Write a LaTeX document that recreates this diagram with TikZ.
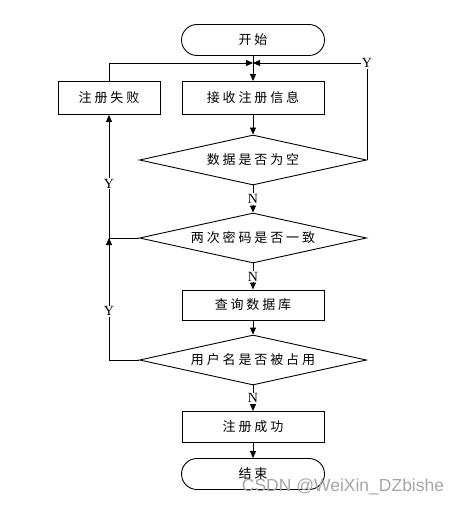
\documentclass[tikz,border=0pt]{standalone}
\usepackage{fontspec}
\usepackage{tikz}
\usetikzlibrary{shapes.geometric,arrows.meta}
\newfontfamily\cjk{Noto Sans CJK SC}[LetterSpace=22]
\newfontfamily\yn{Liberation Serif}
\newfontfamily\wm{Liberation Sans}

\begin{document}
\begin{tikzpicture}[x=1pt, y=-1pt, line width=0.9pt, >={Triangle[length=7pt,width=6pt]},
    font=\cjk\fontsize{13}{15}\selectfont,
    term/.style={draw, rectangle, rounded corners=15.5pt, minimum width=143pt, minimum height=31pt},
    proc/.style={draw, rectangle, minimum width=142pt, minimum height=31pt},
    test/.style={draw, diamond, aspect=4.5, inner sep=0pt, minimum width=227pt, minimum height=50pt},
    yes/.style={fill=white, inner sep=1pt, font=\yn\fontsize{14}{16}\selectfont}]
    \useasboundingbox (0,0) rectangle (464,505);
    % main column
    \node[term] (start) at (253,40) {开始};
    \node[proc, minimum height=33pt] (recv) at (253,98) {接收注册信息};
    \node[proc, minimum width=102pt, minimum height=33pt] (fail) at (109,98) {注册失败};
    \node[test] (empty) at (253,160) {数据是否为空};
    \node[test] (same) at (253,238) {两次密码是否一致};
    \node[proc, minimum height=30pt] (query) at (253,305) {查询数据库};
    \node[test] (used) at (253,360) {用户名是否被占用};
    \node[proc] (ok) at (253,427) {注册成功};
    \node[term] (finish) at (253,474) {结束};
    % joins
    \coordinate (join) at (253,63);
    \coordinate (back) at (fail.south |- same.west);
    % flow
    \draw[->] (start) -- (recv);
    \draw[->] (recv) -- (empty);
    \draw[->] (empty) -- (same) node[midway, yes] {N};
    \draw[->] (same) -- (query) node[midway, yes] {N};
    \draw[->] (query) -- (used);
    \draw[->] (used) -- (ok) node[midway, yes] {N};
    \draw[->] (ok) -- (finish);
    % back loops
    \draw[->] (fail.north) |- (join);
    \draw[->] (empty.east) |- (join) node[pos=0.5, yes] {Y};
    \draw[->] (same.west) -| (fail.south) node[pos=0.72, yes] {Y};
    \draw[->] (used.west) -| (back) node[pos=0.7, yes] {Y};
    % watermark
    \node[text=black!35, font=\wm\fontsize{17.5}{19}\selectfont] (mark) at (343,487) {CSDN @WeiXin\_DZbishe};
\end{tikzpicture}
\end{document}
